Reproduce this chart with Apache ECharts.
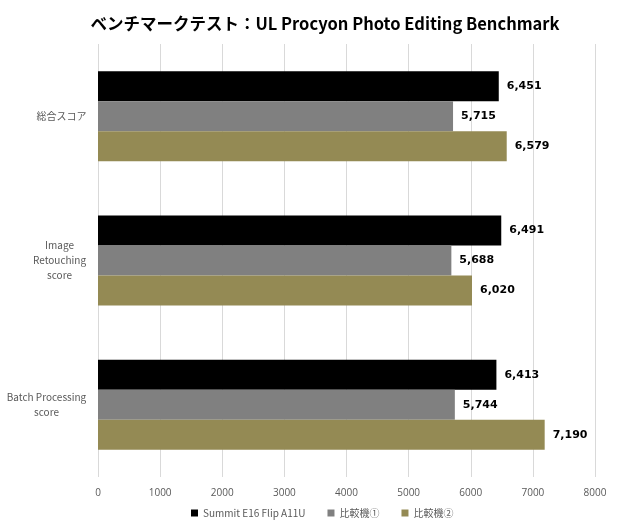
<!DOCTYPE html>
<html lang="ja">
<head>
    <meta charset="UTF-8">
    <title>UL Procyon Photo Editing Benchmark</title>
    <script src="https://cdn.jsdelivr.net/npm/echarts@6/dist/echarts.min.js"></script>
    <style>
        html, body { margin: 0; padding: 0; background: #fff; }
        #chart { width: 620px; height: 530px; }
    </style>
</head>
<body>
<div id="chart"></div>
<script>
    var categories = ['総合スコア', 'Image\nRetouching\nscore', 'Batch Processing\nscore'];
    var seriesNames = ['Summit E16 Flip A11U', '比較機①', '比較機②'];
    var summitValues = [6451, 6491, 6413];
    var compare1Values = [5715, 5688, 5744];
    var compare2Values = [6579, 6020, 7190];
    var colors = ['#000000', '#808080', '#948a54'];

    var labelFont = '10px "Noto Sans CJK JP"';

    // width of the widest line of each category label, so lines can be centred in a right-aligned block
    var ctx = document.createElement('canvas').getContext('2d');
    ctx.font = labelFont;
    var rich = {};
    categories.forEach(function (c, i) {
        var w = 0;
        c.split('\n').forEach(function (line) {
            w = Math.max(w, ctx.measureText(line).width);
        });
        rich['c' + i] = {
            width: Math.ceil(w) + 1,
            align: 'center',
            lineHeight: 15,
            fontSize: 10,
            fontFamily: 'Noto Sans CJK JP',
            color: '#595959'
        };
    });

    var chart = echarts.init(document.getElementById('chart'));

    function makeSeries(name, data, color) {
        return {
            name: name,
            type: 'bar',
            data: data,
            barWidth: 30,
            barGap: '0%',
            itemStyle: { color: color },
            label: {
                show: true,
                position: 'right',
                distance: 8,
                color: '#000',
                fontFamily: 'DejaVu Sans',
                fontWeight: 'bold',
                fontSize: 11,
                formatter: function (p) { return p.value.toLocaleString('en-US'); }
            }
        };
    }

    var option = {
        animation: false,
        color: colors,
        title: {
            text: 'ベンチマークテスト：UL Procyon Photo Editing Benchmark',
            left: 320,
            textAlign: 'center',
            top: 10,
            textStyle: {
                fontFamily: 'Noto Sans CJK JP',
                fontWeight: 'bold',
                fontSize: 16.5,
                color: '#000'
            }
        },
        legend: {
            bottom: 7,
            left: 186,
            icon: 'rect',
            itemWidth: 7,
            itemHeight: 7,
            itemGap: 22,
            data: seriesNames,
            textStyle: { fontFamily: 'Noto Sans CJK JP', fontSize: 10, color: '#595959' }
        },
        grid: { left: 98, right: 25, top: 44, bottom: 53 },
        xAxis: {
            type: 'value',
            min: 0,
            max: 8000,
            interval: 1000,
            axisLine: { show: false },
            axisTick: { show: false },
            axisLabel: {
                fontFamily: 'Open Sans',
                fontSize: 10,
                color: '#595959',
                margin: 11,
                formatter: function (v) { return String(v); }
            },
            splitLine: { lineStyle: { color: '#d9d9d9' } }
        },
        yAxis: {
            type: 'category',
            data: categories,
            inverse: true,
            axisLine: { show: false },
            axisTick: { show: false },
            axisLabel: {
                margin: 11,
                align: 'right',
                formatter: function (v, i) {
                    return v.split('\n').map(function (line) {
                        return '{c' + i + '|' + line + '}';
                    }).join('\n');
                },
                rich: rich
            }
        },
        series: [
            makeSeries(seriesNames[0], summitValues, colors[0]),
            makeSeries(seriesNames[1], compare1Values, colors[1]),
            makeSeries(seriesNames[2], compare2Values, colors[2])
        ]
    };
    chart.setOption(option);
</script>
</body>
</html>
